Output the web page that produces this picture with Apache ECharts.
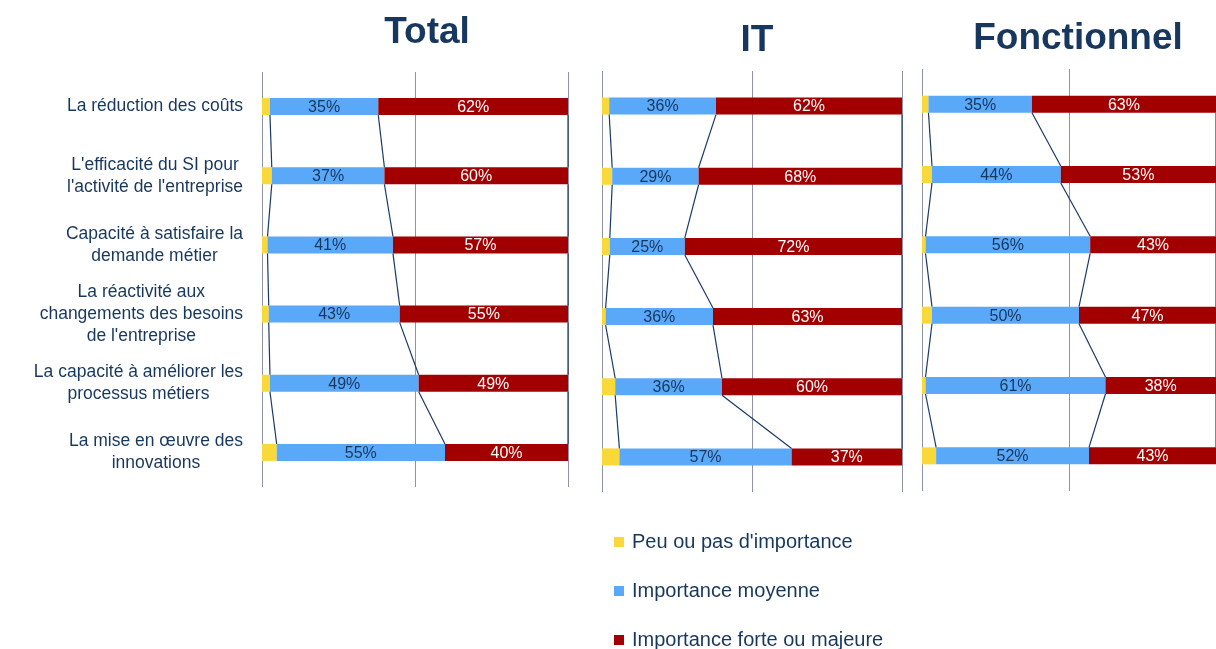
<!DOCTYPE html>
<html><head><meta charset="utf-8">
<script src="https://cdn.jsdelivr.net/npm/echarts@6/dist/echarts.min.js"></script>
<style>html,body{margin:0;padding:0;background:#fff}#c{width:1216px;height:649px}</style>
</head><body><div id="c"></div>
<script>
// ---------- data ----------
const categories = [
  'La réduction des coûts',
  "L'efficacité du SI pour\nl'activité de l'entreprise",
  'Capacité à satisfaire la\ndemande métier',
  "La réactivité aux\nchangements des besoins\nde l'entreprise",
  'La capacité à améliorer les\nprocessus métiers',
  'La mise en œuvre des\ninnovations'
];
const panelTitles = ['Total', 'IT', 'Fonctionnel'];
const seriesNames = ["Peu ou pas d'importance", 'Importance moyenne', 'Importance forte ou majeure'];

const totalPeu      = [2.6, 3.2, 1.8, 2.2, 2.6, 4.8];
const totalMoyenne  = [35.4, 36.8, 41.0, 42.8, 48.6, 55.0];
const totalForte    = [62.0, 60.0, 57.2, 55.0, 48.8, 40.2];

const itPeu         = [2.4, 3.4, 2.6, 1.2, 4.4, 5.8];
const itMoyenne     = [35.6, 28.8, 25.0, 35.8, 35.6, 57.4];
const itForte       = [62.0, 67.8, 72.4, 63.0, 60.0, 36.8];

const fonPeu        = [2.2, 3.4, 1.2, 3.4, 1.2, 4.8];
const fonMoyenne    = [35.2, 43.8, 56.0, 50.0, 61.2, 52.0];
const fonForte      = [62.6, 52.8, 42.8, 46.6, 37.6, 43.2];

const axisTicks = [0, 50, 100];

// ---------- styles ----------
const COLORS = ['#F9D93A', '#5AA8F8', '#A20000'];
const NAVY = '#17375E';
const GRID_COLOR = '#8F93A6';
const BAR_H = 17;
const FONT = 'Liberation Sans, Arial, sans-serif';

const panels = [
  {peu: totalPeu, moy: totalMoyenne, forte: totalForte, grid: {left: 262, width: 306, top: 72, height: 415}, title: {left: 422, top: 9}},
  {peu: itPeu, moy: itMoyenne, forte: itForte, grid: {left: 602, width: 300, top: 71, height: 421}, title: {left: 752, top: 17}},
  {peu: fonPeu, moy: fonMoyenne, forte: fonForte, grid: {left: 922, width: 300, top: 69, height: 422}, title: {left: 1073, top: 15}}
];

const grids = [], xAxes = [], yAxes = [], series = [], titles = [];
panels.forEach((p, k) => {
  grids.push(Object.assign({containLabel: false}, p.grid));
  titles.push({text: panelTitles[k], left: p.title.left, top: p.title.top, textAlign: 'center',
    textStyle: {fontFamily: FONT, fontSize: 37, fontWeight: 'bold', color: NAVY}});
  xAxes.push({type: 'value', gridIndex: k, min: axisTicks[0], max: axisTicks[axisTicks.length - 1], interval: axisTicks[1] - axisTicks[0],
    axisLine: {show: false}, axisTick: {show: false}, axisLabel: {show: false},
    splitLine: {show: true, lineStyle: {color: GRID_COLOR, width: 1}}});
  yAxes.push({type: 'category', gridIndex: k, data: categories, inverse: true,
    axisLine: {show: false}, axisTick: {show: false},
    axisLabel: k === 0 ? {
      show: true, align: 'right', margin: 19,
      formatter: v => v.split('\n').map(l => '{c|' + l + '}').join('\n'),
      rich: {c: {align: 'center', fontFamily: FONT, fontSize: 17.5, color: NAVY, lineHeight: 22}}
    } : {show: false}});
  const vals = [p.peu, p.moy, p.forte];
  vals.forEach((arr, s) => {
    series.push({
      type: 'bar', name: seriesNames[s], xAxisIndex: k, yAxisIndex: k, stack: 'p' + k,
      barWidth: BAR_H, data: arr, itemStyle: {color: COLORS[s]},
      label: s === 0 ? {show: false} : {
        show: true, position: 'inside', formatter: d => Math.round(d.value) + '%',
        fontFamily: FONT, fontSize: 16, offset: [0, 1],
        color: s === 1 ? NAVY : '#FFFFFF'
      },
      emphasis: {disabled: true}
    });
  });
  // series lines connecting segment boundaries of consecutive bars
  const lineData = [];
  for (let i = 0; i < categories.length - 1; i++) {
    const a = [p.peu[i], p.peu[i] + p.moy[i], p.peu[i] + p.moy[i] + p.forte[i]];
    const b = [p.peu[i + 1], p.peu[i + 1] + p.moy[i + 1], p.peu[i + 1] + p.moy[i + 1] + p.forte[i + 1]];
    for (let j = 0; j < 3; j++) lineData.push([a[j], b[j], i]);
  }
  series.push({
    type: 'custom', xAxisIndex: k, yAxisIndex: k, data: lineData, silent: true, z: 3,
    encode: {x: [0, 1], y: 2},
    renderItem: (params, api) => {
      const i = api.value(2);
      const p1 = api.coord([api.value(0), i]);
      const p2 = api.coord([api.value(1), i + 1]);
      return {type: 'line', shape: {x1: p1[0], y1: p1[1] + BAR_H / 2, x2: p2[0], y2: p2[1] - BAR_H / 2},
        style: {stroke: '#1B3A66', lineWidth: 1.2}};
    }
  });
});

const chart = echarts.init(document.getElementById('c'), null, {renderer: 'canvas'});
chart.setOption({
  animation: false,
  backgroundColor: '#ffffff',
  title: titles,
  grid: grids, xAxis: xAxes, yAxis: yAxes, series: series,
  legend: {
    orient: 'vertical', left: 609, top: 527, height: 300, itemGap: 29, itemWidth: 10, itemHeight: 10, icon: 'rect',
    data: seriesNames, selectedMode: false,
    textStyle: {fontFamily: FONT, fontSize: 20, color: NAVY, padding: [0, 0, 0, 3]}
  }
});
</script>
</body></html>
